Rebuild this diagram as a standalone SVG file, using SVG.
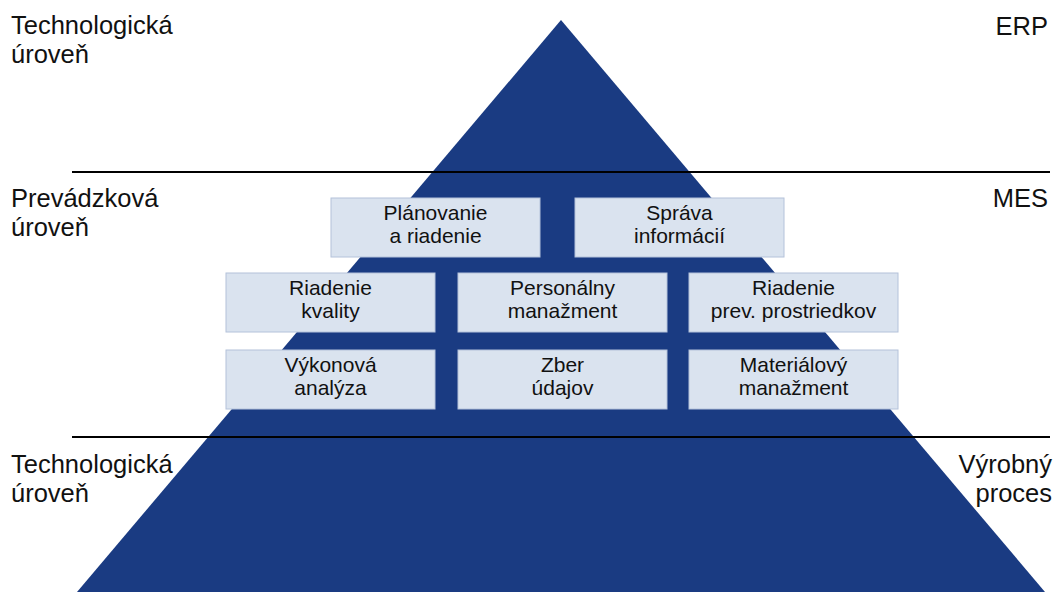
<svg xmlns="http://www.w3.org/2000/svg" width="1058" height="592" viewBox="0 0 1058 592">
<style>
.lbl{font-family:"Liberation Sans",Arial,sans-serif;font-size:25.5px;fill:#111}
.r{text-anchor:end}
.box rect{fill:#dae3ef;stroke:#b4c2da;stroke-width:1}
.box text{font-family:"Liberation Sans",Arial,sans-serif;font-size:21px;fill:#111;text-anchor:middle}
.sep{stroke:#000;stroke-width:2}
</style>
<rect width="1058" height="592" fill="#fff"/>
<g id="pyramid"><polygon points="561,20 77,592 1045,592" fill="#1a3b82"/></g>
<g id="connectors">
<line class="sep" x1="72" y1="172" x2="1050" y2="172"/>
<line class="sep" x1="72" y1="437" x2="1050" y2="437"/>
</g>
<g id="labels">
<text class="lbl" x="11" y="34">Technologická</text>
<text class="lbl" x="11" y="63">úroveň</text>
<text class="lbl r" x="1048" y="35">ERP</text>
<text class="lbl" x="11" y="207">Prevádzková</text>
<text class="lbl" x="11" y="236">úroveň</text>
<text class="lbl r" x="1048" y="207">MES</text>
<text class="lbl" x="11" y="473">Technologická</text>
<text class="lbl" x="11" y="502">úroveň</text>
<text class="lbl r" x="1052" y="473">Výrobný</text>
<text class="lbl r" x="1052" y="502">proces</text>
</g>
<g id="n1" class="box"><rect x="331" y="198" width="209" height="59"/><text x="435.5" y="220">Plánovanie</text><text x="435.5" y="243">a riadenie</text></g>
<g id="n2" class="box"><rect x="575" y="198" width="209" height="59"/><text x="679.5" y="220">Správa</text><text x="679.5" y="243">informácií</text></g>
<g id="n3" class="box"><rect x="226" y="273" width="209" height="59"/><text x="330.5" y="295">Riadenie</text><text x="330.5" y="318">kvality</text></g>
<g id="n4" class="box"><rect x="458" y="273" width="209" height="59"/><text x="562.5" y="295">Personálny</text><text x="562.5" y="318">manažment</text></g>
<g id="n5" class="box"><rect x="689" y="273" width="209" height="59"/><text x="793.5" y="295">Riadenie</text><text x="793.5" y="318">prev. prostriedkov</text></g>
<g id="n6" class="box"><rect x="226" y="350" width="209" height="59"/><text x="330.5" y="372">Výkonová</text><text x="330.5" y="395">analýza</text></g>
<g id="n7" class="box"><rect x="458" y="350" width="209" height="59"/><text x="562.5" y="372">Zber</text><text x="562.5" y="395">údajov</text></g>
<g id="n8" class="box"><rect x="689" y="350" width="209" height="59"/><text x="793.5" y="372">Materiálový</text><text x="793.5" y="395">manažment</text></g>
</svg>
